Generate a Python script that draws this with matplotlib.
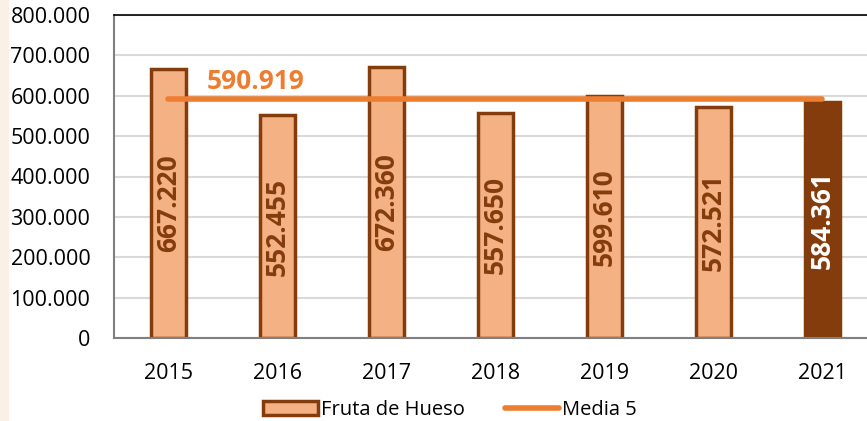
import matplotlib.pyplot as plt
from matplotlib.patches import Rectangle

years = ["2015", "2016", "2017", "2018", "2019", "2020", "2021"]
fruta = [667220, 552455, 672360, 557650, 599610, 572521, 584361]
media5 = [590919, 590919, 590919, 590919, 590919, 590919, 590919]
yticks = [0, 100000, 200000, 300000, 400000, 500000, 600000, 700000, 800000]
ytick_labels = ["0", "100.000", "200.000", "300.000", "400.000", "500.000",
                "600.000", "700.000", "800.000"]

light = "#F4B183"
dark = "#843C0C"
orange = "#ED7D31"

def fmt(v):
    return "{:,}".format(v).replace(",", ".")

plt.rcParams["font.family"] = ["Open Sans", "DejaVu Sans"]

fig = plt.figure(figsize=(8.67, 4.21), dpi=100)
fig.patches.append(Rectangle((0, 0), 8 / 867, 1, transform=fig.transFigure,
                             color="#FBF0E6", zorder=0))
ax = fig.add_axes([114 / 867, 83 / 421, 763 / 867, 323 / 421])

x = list(range(len(years)))
colors = [light] * 6 + [dark]
bars = ax.bar(x, fruta, width=0.33, color=colors, edgecolor=dark, linewidth=2.5,
              label="Fruta de Hueso", zorder=2)
line, = ax.plot(x, media5, color=orange, linewidth=4, solid_capstyle="round",
                label="Media 5", zorder=3)

for i, v in enumerate(fruta):
    ax.text(i, v / 2, fmt(v), rotation=90, ha="center", va="center",
            fontsize=19, fontweight="bold",
            color="white" if i == 6 else dark, zorder=4)

ax.annotate(fmt(media5[0]), xy=(0.8, media5[0]), xytext=(0, 13),
            textcoords="offset points", ha="center", va="center",
            fontsize=19, fontweight="bold", color=orange)

ax.set_xlim(-0.5, 6.5)
ax.set_ylim(0, 800000)
ax.set_yticks(yticks)
ax.set_yticklabels(ytick_labels)
ax.set_xticks(x)
ax.set_xticklabels(years)
ax.tick_params(axis="y", length=0, pad=17, labelsize=15.5)
ax.tick_params(axis="x", length=0, pad=18, labelsize=15.5)
ax.grid(axis="y", color="#D9D9D9", linewidth=1.5, zorder=0)
ax.set_axisbelow(True)
for s in ["left", "bottom"]:
    ax.spines[s].set_color("#808080")
    ax.spines[s].set_linewidth(1.5)
ax.spines["top"].set_color("black")
ax.spines["top"].set_linewidth(1.2)
ax.spines["right"].set_visible(False)

fig.legend(handles=[bars, line], loc="center", bbox_to_anchor=(0.519, 0.027),
           ncol=2, frameon=False, fontsize=14.5, handlelength=2.7,
           handletextpad=0.15, columnspacing=2.0, borderaxespad=0)

fig.savefig("out.png", dpi=100)
